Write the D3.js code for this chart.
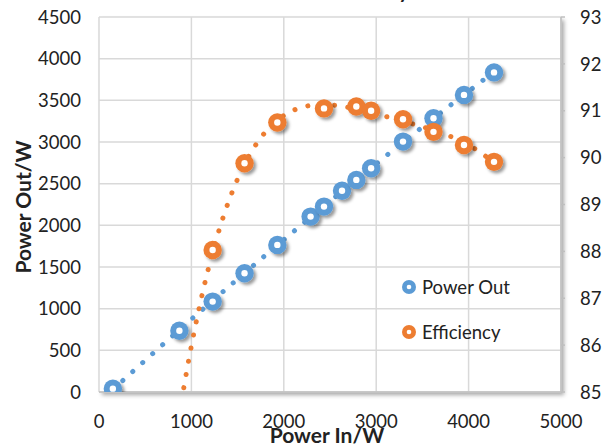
<!DOCTYPE html>
<html><head><meta charset="utf-8">
<script src="https://cdn.jsdelivr.net/npm/d3@7"></script>
<style>html,body{margin:0;padding:0;background:#fff;}svg{display:block;font-family:Lato,"Open Sans",sans-serif;}</style>
</head><body>
<svg id="c" width="615" height="447"></svg>
<script>
// ---- data ----
const powerIn = [150, 870, 1230, 1575, 1930, 2290, 2435, 2630, 2785, 2945, 3290, 3620, 3950, 4275];
const powerOut = [40, 735, 1085, 1425, 1765, 2105, 2225, 2415, 2545, 2685, 3005, 3285, 3565, 3835];
const effIn = [870, 1230, 1575, 1930, 2435, 2785, 2945, 3290, 3620, 3950, 4275];
const efficiency = [84.5, 88.03, 89.88, 90.75, 91.05, 91.09, 91.0, 90.82, 90.55, 90.27, 89.91];
const xTicks = [0, 1000, 2000, 3000, 4000, 5000];
const yLeftTicks = [0, 500, 1000, 1500, 2000, 2500, 3000, 3500, 4000, 4500];
const yRightTicks = [85, 86, 87, 88, 89, 90, 91, 92, 93];
const seriesNames = ["Power Out", "Efficiency"];
const colors = ["#5B9BD5", "#ED7D31"];

// ---- helpers ----
function polyFit(xs, ys, order) {
  const n = order + 1;
  const A = Array.from({length: n}, () => new Array(n + 1).fill(0));
  xs.forEach((xv, k) => {
    const x = xv / 1000;
    for (let i = 0; i < n; i++) {
      for (let j = 0; j < n; j++) A[i][j] += Math.pow(x, i + j);
      A[i][n] += ys[k] * Math.pow(x, i);
    }
  });
  for (let i = 0; i < n; i++) {
    let p = i;
    for (let r = i + 1; r < n; r++) if (Math.abs(A[r][i]) > Math.abs(A[p][i])) p = r;
    [A[i], A[p]] = [A[p], A[i]];
    for (let r = 0; r < n; r++) {
      if (r === i) continue;
      const f = A[r][i] / A[i][i];
      for (let c = i; c <= n; c++) A[r][c] -= f * A[i][c];
    }
  }
  const coef = A.map((row, i) => row[n] / row[i]);
  return xv => { const x = xv / 1000; return coef.reduce((s, c, i) => s + c * Math.pow(x, i), 0); };
}

const svg = d3.select("#c");
const W = 615, H = 447;
const x = d3.scaleLinear().domain([0, 5000]).range([99, 561]);
const yL = d3.scaleLinear().domain([0, 4500]).range([392, 17]);
const yR = d3.scaleLinear().domain([85, 93]).range([392, 17]);

const defs = svg.append("defs");
const f1 = defs.append("filter").attr("id", "plotShadow").attr("x", "-5%").attr("y", "-5%").attr("width", "115%").attr("height", "115%");
f1.append("feDropShadow").attr("dx", 3).attr("dy", 3).attr("stdDeviation", 2).attr("flood-color", "#000").attr("flood-opacity", 0.35);
const f2 = defs.append("filter").attr("id", "mShadow").attr("x", "-60%").attr("y", "-60%").attr("width", "220%").attr("height", "220%");
f2.append("feDropShadow").attr("dx", 2.5).attr("dy", 2.5).attr("stdDeviation", 1.6).attr("flood-color", "#000").attr("flood-opacity", 0.4);
defs.append("clipPath").attr("id", "plotClip").append("rect")
  .attr("x", x(0)).attr("y", yL(4500)).attr("width", x(5000) - x(0)).attr("height", yL(0) - yL(4500));

// title (cut off at top)
svg.append("text").attr("x", 409).attr("y", -2).attr("text-anchor", "end")
  .attr("font-size", 20).attr("font-weight", "bold").attr("fill", "#222")
  .text("Power Out and Efficiency");

// plot area with shadow
svg.append("rect").attr("x", x(0)).attr("y", yL(4500)).attr("width", x(5000) - x(0)).attr("height", yL(0) - yL(4500))
  .attr("fill", "#fff").attr("filter", "url(#plotShadow)");

// gridlines
const grid = svg.append("g").attr("stroke", "#d9d9d9").attr("stroke-width", 1.5);
grid.selectAll(".h").data(yLeftTicks).join("line")
  .attr("x1", x(0)).attr("x2", x(5000)).attr("y1", d => yL(d)).attr("y2", d => yL(d));
grid.selectAll(".v").data(xTicks).join("line")
  .attr("y1", yL(0)).attr("y2", yL(4500)).attr("x1", d => x(d)).attr("x2", d => x(d));

// axis lines
svg.append("line").attr("x1", x(0)).attr("x2", x(5000)).attr("y1", yL(0)).attr("y2", yL(0)).attr("stroke", "#bfbfbf").attr("stroke-width", 1.5);
svg.append("line").attr("x1", x(5000)).attr("x2", x(5000)).attr("y1", yL(0)).attr("y2", yL(4500)).attr("stroke", "#bfbfbf").attr("stroke-width", 1.5);
svg.append("g").selectAll("line").data(yRightTicks).join("line")
  .attr("x1", x(5000)).attr("x2", x(5000) + 4).attr("y1", d => yR(d)).attr("y2", d => yR(d))
  .attr("stroke", "#bfbfbf").attr("stroke-width", 1.5);

// tick labels
const tickFont = 18.5;
svg.append("g").selectAll("text").data(yLeftTicks).join("text")
  .attr("x", 81).attr("y", d => yL(d)).attr("dy", "0.36em").attr("text-anchor", "end")
  .attr("font-size", tickFont).attr("fill", "#222").text(d => d);
svg.append("g").selectAll("text").data(yRightTicks).join("text")
  .attr("x", 580).attr("y", d => yR(d)).attr("dy", "0.36em").attr("text-anchor", "start")
  .attr("font-size", tickFont).attr("fill", "#222").text(d => d);
svg.append("g").selectAll("text").data(xTicks).join("text")
  .attr("x", d => x(d)).attr("y", 421).attr("dy", "0.36em").attr("text-anchor", "middle")
  .attr("font-size", tickFont).attr("fill", "#222").text(d => d);

// axis titles
svg.append("text").attr("x", 327).attr("y", 443).attr("text-anchor", "middle")
  .attr("font-size", 21).attr("font-weight", "bold").attr("fill", "#222").text("Power In/W");
svg.append("text").attr("transform", "translate(31,207) rotate(-90)").attr("text-anchor", "middle")
  .attr("font-size", 21).attr("font-weight", "bold").attr("fill", "#222").text("Power Out/W");

// trendlines
const plot = svg.append("g").attr("clip-path", "url(#plotClip)");
function trend(xs, ys, order, yScale, color) {
  const fn = polyFit(xs, ys, order);
  const lo = d3.min(xs), hi = d3.max(xs);
  const pts = d3.range(0, 201).map(i => { const xv = lo + (hi - lo) * i / 200; return [xv, fn(xv)]; });
  plot.append("path").datum(pts)
    .attr("d", d3.line().x(d => x(d[0])).y(d => yScale(d[1])))
    .attr("fill", "none").attr("stroke", color).attr("stroke-width", 5)
    .attr("stroke-linecap", "round").attr("stroke-dasharray", "0.1 13.3");
}
trend(powerIn, powerOut, 2, yL, colors[0]);

// markers
function markers(xs, ys, yScale, color) {
  const g = plot.append("g");
  const pts = xs.map((xv, i) => [xv, ys[i]]);
  g.selectAll("circle.o").data(pts).join("circle")
    .attr("cx", d => x(d[0])).attr("cy", d => yScale(d[1])).attr("r", 9.2)
    .attr("fill", color).attr("filter", "url(#mShadow)");
  g.selectAll("circle.i").data(pts).join("circle")
    .attr("cx", d => x(d[0])).attr("cy", d => yScale(d[1])).attr("r", 3.2)
    .attr("fill", "#fff");
}
markers(powerIn, powerOut, yL, colors[0]);
trend(effIn, efficiency, 4, yR, colors[1]);
markers(effIn, efficiency, yR, colors[1]);

// legend
const leg = svg.append("g").selectAll("g").data(seriesNames).join("g")
  .attr("transform", (d, i) => `translate(409,${287 + i * 45})`);
leg.append("circle").attr("r", 7).attr("fill", (d, i) => colors[i]);
leg.append("circle").attr("r", 2.3).attr("fill", "#fff");
leg.append("text").attr("x", 13).attr("dy", "0.36em").attr("font-size", tickFont).attr("fill", "#222").text(d => d);
</script>
</body></html>
